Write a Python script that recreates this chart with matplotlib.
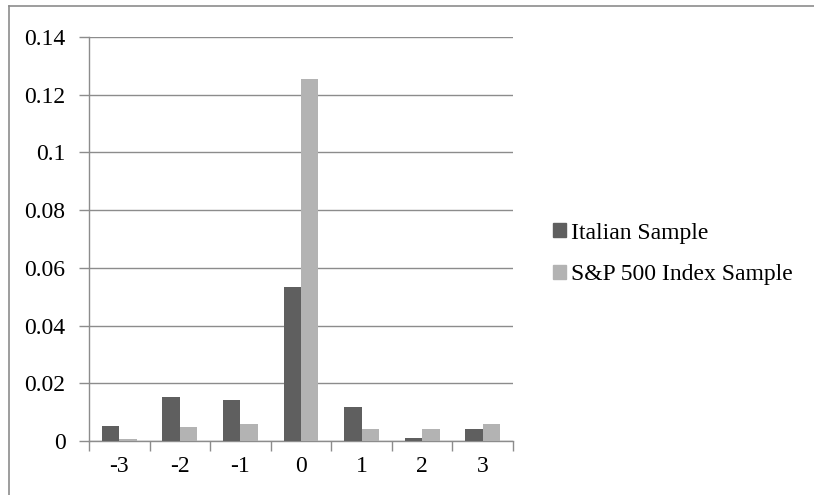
import numpy as np
import matplotlib
matplotlib.use('agg')
import matplotlib.pyplot as plt
from matplotlib.lines import Line2D

plt.rc('font', family='Liberation Serif')

# data
categories = ['-3', '-2', '-1', '0', '1', '2', '3']
italian = [0.0051, 0.0153, 0.0143, 0.0533, 0.0118, 0.0012, 0.0040]
sp500 = [0.0006, 0.0049, 0.0058, 0.1253, 0.0040, 0.0042, 0.0058]
yticks = [0, 0.02, 0.04, 0.06, 0.08, 0.1, 0.12, 0.14]
ytick_labels = ['0', '0.02', '0.04', '0.06', '0.08', '0.1', '0.12', '0.14']

dark = '#5f5f5f'
light = '#b3b3b3'
gridc = '#8c8c8c'
fs = 17

fig = plt.figure(figsize=(8.14, 4.95), dpi=100)
ax = fig.add_axes([89 / 814, 1 - 441 / 495, (513 - 89) / 814, (441 - 37) / 495])

x = np.arange(len(categories))
w = 0.287
ax.bar(x - w / 2, italian, w, color=dark, label='Italian Sample', zorder=3)
ax.bar(x + w / 2, sp500, w, color=light, label='S&P 500 Index Sample', zorder=3)

ax.set_xlim(-0.5, len(categories) - 0.5)
ax.set_ylim(0, 0.14)
ax.set_yticks(yticks)
ax.set_yticklabels(ytick_labels)
ax.set_xticks(x)
ax.set_xticklabels(categories)
ax.set_xticks(np.arange(len(categories) + 1) - 0.5, minor=True)

ax.yaxis.grid(True, color=gridc, linewidth=1, zorder=0)
for s in ['top', 'right']:
    ax.spines[s].set_visible(False)
for s in ['left', 'bottom']:
    ax.spines[s].set_color(gridc)
    ax.spines[s].set_linewidth(1)

ax.tick_params(axis='y', direction='out', length=7, width=1, color=gridc,
               labelsize=fs, pad=10)
ax.tick_params(axis='x', which='major', length=0, labelsize=fs, pad=11)
ax.tick_params(axis='x', which='minor', direction='out', length=7, width=1, color=gridc)

handles = [plt.Rectangle((0, 0), 1, 1, color=dark),
           plt.Rectangle((0, 0), 1, 1, color=light)]
fig.legend(handles, ['Italian Sample', 'S&P 500 Index Sample'],
           loc='center left', bbox_to_anchor=(553 / 814, 1 - 254 / 495),
           frameon=False, fontsize=fs, handlelength=0.55, handleheight=0.55,
           handletextpad=0.22, labelspacing=0.88, borderaxespad=0.0, borderpad=0.0)

# outer chart border (top and left visible)
fig.add_artist(Line2D([9 / 814, 9 / 814], [0, 1 - 6 / 495],
                      transform=fig.transFigure, color=gridc, linewidth=1.2))
fig.add_artist(Line2D([9 / 814, 1], [1 - 6 / 495, 1 - 6 / 495],
                      transform=fig.transFigure, color=gridc, linewidth=1.2))

plt.savefig('out.png', dpi=100)
plt.close()
